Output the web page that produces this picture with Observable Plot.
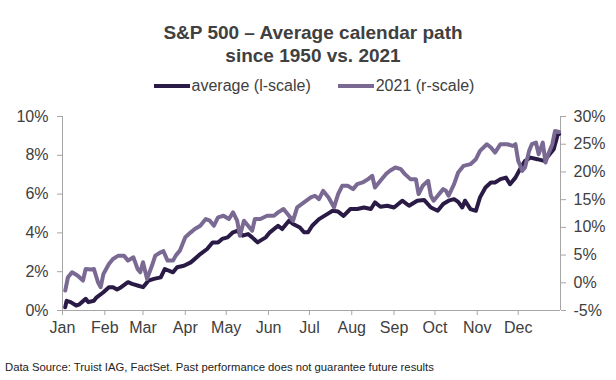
<!DOCTYPE html>
<html>
<head>
<meta charset="utf-8">
<script src="https://cdn.jsdelivr.net/npm/d3@7"></script>
<script src="https://cdn.jsdelivr.net/npm/@observablehq/plot@0.6"></script>
<style>
  html, body { margin: 0; padding: 0; background: #fff; }
  #wrap { position: relative; width: 616px; height: 380px; font-family: "Liberation Sans", Arial, sans-serif; color: #404040; overflow: hidden; }
  #title { position: absolute; left: 5px; top: 21px; width: 616px; text-align: center; font-weight: bold; font-size: 19px; line-height: 23px; color: #404040; }
  #legend { position: absolute; left: 6px; top: 77px; width: 616px; display: flex; justify-content: center; gap: 27px; font-size: 16px; color: #404040; }
  #legend .item { display: flex; align-items: center; }
  #legend .sw { display: inline-block; width: 36px; height: 4px; margin-right: 2px; }
  #caption { position: absolute; left: 5px; top: 361px; font-size: 11.3px; color: #222; }
  #chart { position: absolute; left: 0; top: 0; }
</style>
</head>
<body>
<div id="wrap">
  <div id="chart"></div>
  <div id="title">S&amp;P 500 – Average calendar path<br>since 1950 vs. 2021</div>
  <div id="legend"></div>
  <div id="caption">Data Source: Truist IAG, FactSet. Past performance does not guarantee future results</div>
</div>
<script>
// ---- data ----
const avgDates = ["2021-01-03","2021-01-04","2021-01-07","2021-01-11","2021-01-13","2021-01-18","2021-01-20","2021-01-24","2021-01-26","2021-01-31",
"2021-02-04","2021-02-07","2021-02-10","2021-02-13","2021-02-18","2021-02-21","2021-02-25","2021-03-01","2021-03-05","2021-03-09",
"2021-03-14","2021-03-17","2021-03-23","2021-03-26","2021-03-31","2021-04-05","2021-04-08","2021-04-12","2021-04-17","2021-04-21",
"2021-04-25","2021-04-28","2021-05-02","2021-05-06","2021-05-09","2021-05-13","2021-05-17","2021-05-20","2021-05-24","2021-05-26",
"2021-05-30","2021-06-02","2021-06-08","2021-06-11","2021-06-16","2021-06-19","2021-06-24","2021-06-27","2021-06-30","2021-07-03",
"2021-07-08","2021-07-14","2021-07-18","2021-07-22","2021-07-26","2021-07-31","2021-08-05","2021-08-10","2021-08-15","2021-08-18",
"2021-08-22","2021-08-27","2021-09-01","2021-09-07","2021-09-12","2021-09-18","2021-09-23","2021-09-28","2021-10-03","2021-10-07",
"2021-10-11","2021-10-15","2021-10-18","2021-10-21","2021-10-23","2021-10-27","2021-10-31","2021-11-03","2021-11-07","2021-11-11",
"2021-11-14","2021-11-18","2021-11-22","2021-11-25","2021-11-29","2021-12-03","2021-12-06","2021-12-10","2021-12-15","2021-12-20",
"2021-12-23","2021-12-27","2021-12-30","2021-12-31"];
const avgValues = [0.17,0.5,0.43,0.26,0.3,0.6,0.43,0.5,0.68,0.94,
1.2,1.2,1.08,1.2,1.46,1.37,1.29,1.2,1.54,1.63,
1.71,2.14,1.97,2.23,2.31,2.48,2.66,2.91,3.17,3.51,
3.51,3.69,3.77,4.03,4.11,3.86,3.94,3.77,3.51,3.6,
3.77,4.03,4.37,4.2,4.63,4.46,4.28,4.03,4.03,4.37,
4.71,4.97,5.14,5.1,4.88,5.23,5.23,5.31,5.23,5.57,
5.35,5.4,5.31,5.66,5.4,5.66,5.7,5.31,5.14,5.49,
5.66,5.74,5.6,5.31,5.66,5.23,5.14,5.83,6.34,6.6,
6.6,6.77,6.85,6.51,6.85,7.37,7.71,7.88,7.8,7.71,
7.97,8.31,9.08,9.1];

const ytdDates = ["2021-01-03","2021-01-05","2021-01-08","2021-01-12","2021-01-16","2021-01-18","2021-01-22","2021-01-24","2021-01-27","2021-01-29",
"2021-01-31","2021-02-04","2021-02-07","2021-02-11","2021-02-15","2021-02-18","2021-02-22","2021-02-25","2021-02-27","2021-03-01",
"2021-03-04","2021-03-08","2021-03-10","2021-03-14","2021-03-16","2021-03-19","2021-03-23","2021-03-25","2021-03-28","2021-04-01",
"2021-04-05","2021-04-08","2021-04-12","2021-04-16","2021-04-19","2021-04-22","2021-04-25","2021-04-29","2021-05-03","2021-05-06",
"2021-05-09","2021-05-11","2021-05-14","2021-05-17","2021-05-20","2021-05-22","2021-05-26","2021-05-31","2021-06-05","2021-06-08",
"2021-06-12","2021-06-16","2021-06-19","2021-06-22","2021-06-27","2021-07-02","2021-07-05","2021-07-08","2021-07-11","2021-07-15",
"2021-07-19","2021-07-22","2021-07-25","2021-07-29","2021-08-02","2021-08-05","2021-08-09","2021-08-13","2021-08-16","2021-08-18",
"2021-08-22","2021-08-26","2021-08-29","2021-09-02","2021-09-06","2021-09-09","2021-09-13","2021-09-17","2021-09-19","2021-09-22",
"2021-09-26","2021-09-28","2021-09-30","2021-10-03","2021-10-07","2021-10-09","2021-10-11","2021-10-15","2021-10-18","2021-10-22",
"2021-10-27","2021-10-31","2021-11-03","2021-11-08","2021-11-11","2021-11-14","2021-11-18","2021-11-23","2021-11-27","2021-11-29",
"2021-12-01","2021-12-04","2021-12-06","2021-12-09","2021-12-11","2021-12-14","2021-12-16","2021-12-19","2021-12-21","2021-12-23",
"2021-12-26","2021-12-28","2021-12-31"];
const ytdValues = [-1.4,1.0,1.9,1.3,0.4,2.5,2.4,2.5,0.1,-0.8,
1.6,3.4,4.3,4.9,4.9,4.0,4.6,2.5,1.9,3.7,
0.7,3.4,4.9,5.5,5.7,4.0,4.0,4.9,5.8,8.2,
9.1,9.7,10.3,11.5,11.2,10.3,11.8,12.1,11.5,12.7,
11.2,8.5,11.2,10.3,9.4,11.5,11.5,12.1,12.1,12.7,
13.3,12.1,11.2,13.6,14.5,15.4,15.7,15.1,16.6,15.4,
13.6,16.0,17.5,17.5,16.9,17.8,18.1,18.7,19.3,17.2,
18.4,19.6,20.2,20.8,20.5,19.6,18.7,18.7,16.0,17.5,
18.4,15.7,14.8,15.7,16.9,16.6,15.7,17.8,19.9,21.1,
21.4,22.3,23.8,25.0,24.4,23.5,25.0,25.0,24.7,25.0,
22.0,20.2,20.8,23.8,25.0,25.3,23.2,25.3,21.7,23.2,
25.0,27.4,27.2];

const leftTicks = [0, 2, 4, 6, 8, 10];
const rightTicks = [-5, 0, 5, 10, 15, 20, 25, 30];
const seriesNames = ["average (l-scale)", "2021 (r-scale)"];
const seriesColors = ["#2a1a46", "#7a6a93"];

// ---- helpers ----
const parse = d3.utcParse("%Y-%m-%d");
const xStart = parse("2021-01-01"), xEnd = parse("2022-01-01");
const monthTicks = d3.utcMonths(xStart, xEnd); // Jan..Dec
// right axis (r) mapped onto left axis (l): r = 3.5*l - 5
const rToL = r => (r + 5) / 3.5;
const lToR = l => 3.5 * l - 5;

const avg = avgDates.map((d, i) => ({date: parse(d), v: avgValues[i]}));
const ytd = ytdDates.map((d, i) => ({date: parse(d), v: rToL(ytdValues[i])}));

const axisColor = "#a6a6a6";
const textColor = "#404040";

const chart = Plot.plot({
  width: 616,
  height: 380,
  marginLeft: 62,
  marginRight: 56,
  marginTop: 116,
  marginBottom: 70,
  style: {fontFamily: "Liberation Sans, Arial, sans-serif", fontSize: "16px", color: textColor, background: "transparent"},
  x: {type: "utc", domain: [xStart, xEnd]},
  y: {domain: [0, 10]},
  marks: [
    Plot.ruleY([0], {stroke: axisColor, strokeWidth: 1}),
    Plot.ruleX([xStart], {stroke: axisColor, strokeWidth: 1}),
    Plot.ruleX([xEnd], {stroke: axisColor, strokeWidth: 1}),
    Plot.axisX({ticks: monthTicks, tickFormat: d3.utcFormat("%b"), tickSize: 5, tickPadding: 6, stroke: axisColor, fill: textColor, fontSize: 16, label: null}),
    Plot.axisY({anchor: "left", ticks: leftTicks, tickFormat: d => d + "%", tickSize: 5, tickPadding: 9, stroke: axisColor, fill: textColor, fontSize: 16, label: null}),
    Plot.axisY({anchor: "right", ticks: rightTicks.map(rToL), tickFormat: l => Math.round(lToR(l)) + "%", tickSize: 5, tickPadding: 8, stroke: axisColor, fill: textColor, fontSize: 16, label: null}),
    Plot.line(avg, {x: "date", y: "v", stroke: seriesColors[0], strokeWidth: 4, strokeLinejoin: "round", strokeLinecap: "round"}),
    Plot.line(ytd, {x: "date", y: "v", stroke: seriesColors[1], strokeWidth: 4, strokeLinejoin: "round", strokeLinecap: "round"})
  ]
});
document.getElementById("chart").appendChild(chart);

const legend = document.getElementById("legend");
seriesNames.forEach((n, i) => {
  const item = document.createElement("div");
  item.className = "item";
  const sw = document.createElement("span");
  sw.className = "sw";
  sw.style.background = seriesColors[i];
  const t = document.createElement("span");
  t.textContent = n;
  item.appendChild(sw);
  item.appendChild(t);
  legend.appendChild(item);
});
</script>
</body>
</html>
